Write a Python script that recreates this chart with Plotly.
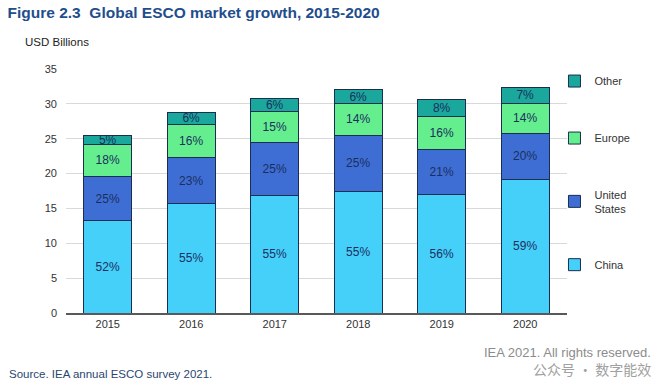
import plotly.graph_objects as go

years = ["2015", "2016", "2017", "2018", "2019", "2020"]
china = [13.2, 15.7, 16.8, 17.5, 17.0, 19.2]
united_states = [6.4, 6.6, 7.6, 8.0, 6.4, 6.5]
europe = [4.6, 4.8, 4.5, 4.6, 4.8, 4.4]
other = [1.3, 1.6, 1.8, 1.9, 2.4, 2.3]
china_pct = ["52%", "55%", "55%", "55%", "56%", "59%"]
us_pct = ["25%", "23%", "25%", "25%", "21%", "20%"]
europe_pct = ["18%", "16%", "15%", "14%", "16%", "14%"]
other_pct = ["5%", "6%", "6%", "6%", "8%", "7%"]
y_ticks = [0, 5, 10, 15, 20, 25, 30, 35]

FONT = "Liberation Sans, Arial, sans-serif"
LABEL_COLOR = "#1B2F5E"
OUTLINE = "#1A2E52"

series = [
    ("China", china, china_pct, "#45D0FA"),
    ("United<br>States", united_states, us_pct, "#3E6ED4"),
    ("Europe", europe, europe_pct, "#64EE8E"),
    ("Other", other, other_pct, "#1AA89C"),
]

fig = go.Figure()
n = len(series)
for i, (name, vals, pct, col) in enumerate(series):
    fig.add_trace(go.Bar(
        x=years, y=vals, name=name, text=pct,
        textposition="inside", insidetextanchor="middle", textangle=0,
        constraintext="none",
        textfont=dict(family=FONT, size=12, color=LABEL_COLOR),
        marker=dict(color=col, line=dict(color=OUTLINE, width=1)),
        legendgroup=f"g{n - i}",
        legendrank=n - i,
        hoverinfo="skip",
    ))

W, H = 660, 384
PW = 501.0
PH = 244.0

fig.update_layout(
    barmode="stack",
    bargap=0.425,
    width=W, height=H,
    margin=dict(l=66, r=93, t=69, b=71),
    paper_bgcolor="white", plot_bgcolor="white",
    font=dict(family=FONT, size=11, color="#333333"),
    title=dict(
        text="<b>Figure 2.3  Global ESCO market growth, 2015-2020</b>",
        x=7.5 / W, xref="container", xanchor="left",
        y=1 - 12.5 / H, yref="container", yanchor="middle",
        font=dict(family=FONT, size=15.5, color="#1F4E8C"),
    ),
    showlegend=True,
    legend=dict(
        x=0.975, xanchor="left", y=1.01, yanchor="top",
        traceorder="grouped", tracegroupgap=38,
        maxheight=330,
        font=dict(family=FONT, size=11, color="#333333"),
        itemwidth=30,
        bgcolor="rgba(0,0,0,0)",
    ),
    xaxis=dict(
        showgrid=False, showline=True, linecolor="#595959", linewidth=1.5,
        ticks="", tickfont=dict(family=FONT, size=11, color="#333333"),
    ),
    yaxis=dict(
        range=[0, 35], tickvals=y_ticks, showgrid=True, gridcolor="#D9D9D9",
        gridwidth=1, zeroline=False, showline=False, ticks="",
        tickfont=dict(family=FONT, size=11, color="#333333"),
        ticklabelstandoff=8,
    ),
)

def px(x):
    return (x - 66) / PW

def py(y):
    return (313 - y) / PH

fig.add_annotation(
    text="USD Billions", xref="paper", yref="paper",
    x=px(23), y=py(42), xanchor="left", yanchor="middle",
    showarrow=False, font=dict(family=FONT, size=11.5, color="#222222"),
)
fig.add_annotation(
    text="IEA 2021. All rights reserved.", xref="paper", yref="paper",
    x=px(653), y=py(352), xanchor="right", yanchor="middle",
    showarrow=False, font=dict(family=FONT, size=13, color="#8C8C8C"),
)
fig.add_annotation(
    text="公众号 · 数字能效", xref="paper", yref="paper",
    x=px(653), y=py(369), xanchor="right", yanchor="middle",
    showarrow=False, font=dict(family="Noto Sans CJK SC", size=14, color="#A0A0A0"),
)
fig.add_annotation(
    text="Source. IEA annual ESCO survey 2021.", xref="paper", yref="paper",
    x=px(7), y=py(374), xanchor="left", yanchor="middle",
    showarrow=False, font=dict(family=FONT, size=11.5, color="#2A4670"),
)

fig.write_html(
    "out.html",
    config={"displayModeBar": False},
    post_script="document.body.style.margin='0px';",
)
